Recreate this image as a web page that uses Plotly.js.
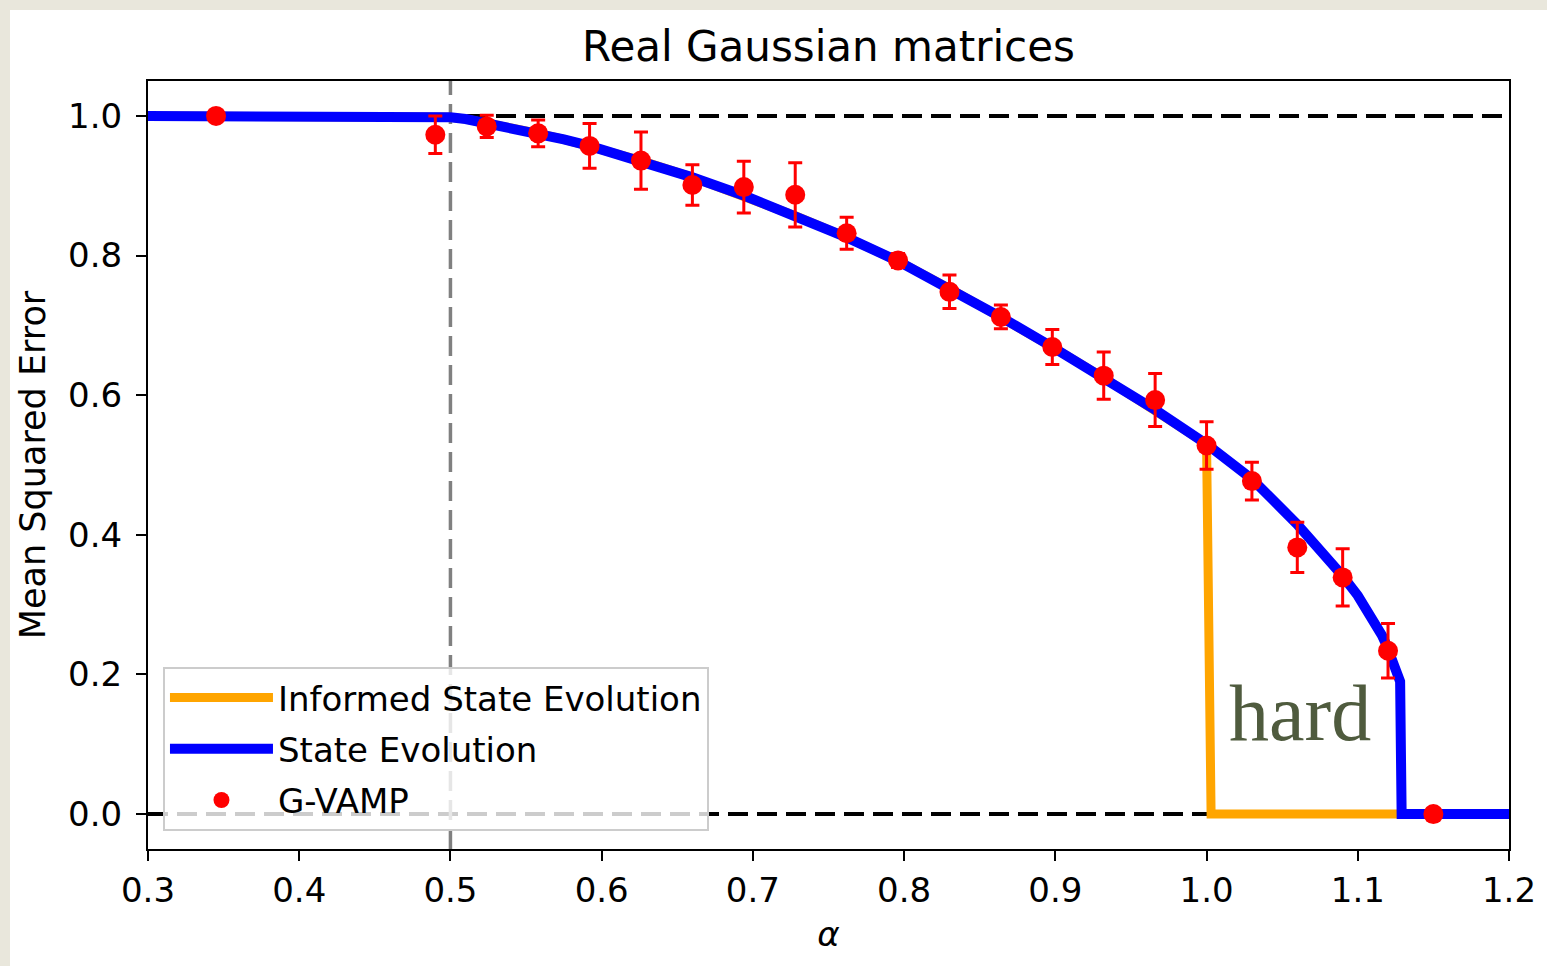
<!DOCTYPE html>
<html>
<head>
<meta charset="utf-8">
<script src="https://cdn.plot.ly/plotly-3.0.1.min.js"></script>
<style>
  html, body { margin: 0; padding: 0; background: #e9e7dc; width: 1547px; height: 966px; overflow: hidden; }
  #chart { position: absolute; left: 10px; top: 10px; width: 1537px; height: 956px; background: #ffffff; }
</style>
</head>
<body>
<div id="chart"></div>
<script>
// ---- data ----
const seAlpha = [0.300, 0.400, 0.470, 0.480, 0.490, 0.500, 0.510, 0.524, 0.540, 0.558, 0.575, 0.592, 0.626,
                 0.660, 0.694, 0.728, 0.762, 0.796, 0.830, 0.864, 0.898, 0.932, 0.966, 1.000, 1.030,
                 1.060, 1.075, 1.090, 1.100, 1.106, 1.112, 1.116, 1.119, 1.123, 1.126, 1.128, 1.129, 1.150, 1.200];
const seMSE   = [1.000, 1.000, 1.000, 0.9998, 0.9993, 0.998, 0.9955, 0.990, 0.9835, 0.975, 0.9665, 0.957, 0.936,
                 0.912, 0.886, 0.857, 0.826, 0.792, 0.753, 0.712, 0.669, 0.625, 0.579, 0.530, 0.480,
                 0.415, 0.380, 0.341, 0.313, 0.294, 0.272, 0.256, 0.242, 0.222, 0.205, 0.190, 0.000, 0.000, 0.000];

const iseAlpha = [0.300, 0.400, 0.470, 0.480, 0.490, 0.500, 0.510, 0.524, 0.540, 0.558, 0.575, 0.592, 0.626,
                  0.660, 0.694, 0.728, 0.762, 0.796, 0.830, 0.864, 0.898, 0.932, 0.966, 1.000, 1.003,
                  1.129, 1.200];
const iseMSE   = [1.000, 1.000, 1.000, 0.9998, 0.9993, 0.998, 0.9955, 0.990, 0.9835, 0.975, 0.9665, 0.957, 0.936,
                  0.912, 0.886, 0.857, 0.826, 0.792, 0.753, 0.712, 0.669, 0.625, 0.579, 0.530, 0.000,
                  0.000, 0.000];

const vampAlpha = [0.345, 0.490, 0.524, 0.558, 0.592, 0.626, 0.660, 0.694, 0.728, 0.762, 0.796,
                   0.830, 0.864, 0.898, 0.932, 0.966, 1.000, 1.030, 1.060, 1.090, 1.120, 1.150];
const vampMSE   = [1.000, 0.973, 0.985, 0.975, 0.957, 0.936, 0.901, 0.898, 0.887, 0.832, 0.793,
                   0.748, 0.712, 0.669, 0.628, 0.593, 0.528, 0.477, 0.382, 0.339, 0.234, 0.000];
const vampErr   = [0.000, 0.027, 0.016, 0.019, 0.032, 0.041, 0.029, 0.037, 0.046, 0.023, 0.010,
                   0.024, 0.017, 0.025, 0.034, 0.038, 0.034, 0.027, 0.036, 0.041, 0.039, 0.000];

const refLevels = [0.0, 1.0];      // horizontal dashed reference levels
const refAlpha  = [0.5];           // vertical dashed reference
const xTicks = [0.3, 0.4, 0.5, 0.6, 0.7, 0.8, 0.9, 1.0, 1.1, 1.2];
const yTicks = [0.0, 0.2, 0.4, 0.6, 0.8, 1.0];

const FONT = 'DejaVu Sans, sans-serif';

const traces = [
  { x: iseAlpha, y: iseMSE, mode: 'lines', name: 'Informed State Evolution', legendgroup: 'g1',
    line: { color: '#ffa500', width: 9 } },
  { x: seAlpha, y: seMSE, mode: 'lines', name: 'State Evolution', legendgroup: 'g2',
    line: { color: '#0000ff', width: 10 } },
  { x: vampAlpha, y: vampMSE, mode: 'markers', name: 'G-VAMP', legendgroup: 'g3',
    marker: { color: '#ff0000', size: 20 },
    error_y: { type: 'data', array: vampErr, visible: true, color: '#ff0000', thickness: 3, width: 7 } }
];

const shapes = [];
refLevels.forEach(v => shapes.push({
  type: 'line', xref: 'paper', yref: 'y', x0: 0, x1: 1, y0: v, y1: v, layer: 'below',
  line: { color: '#000000', width: 4, dash: '20px,9px' }
}));
refAlpha.forEach(v => shapes.push({
  type: 'line', xref: 'x', yref: 'paper', x0: v, x1: v, y0: 0, y1: 1, layer: 'below',
  line: { color: '#808080', width: 3.5, dash: '20px,9px' }
}));

const layout = {
  width: 1537, height: 956,
  paper_bgcolor: '#ffffff', plot_bgcolor: '#ffffff',
  margin: { l: 138, r: 38, t: 71, b: 117 },
  font: { family: FONT, color: '#000000', size: 34 },
  title: { text: 'Real Gaussian matrices', font: { family: FONT, size: 42, color: '#000000' },
           x: 0.5, xref: 'paper', xanchor: 'center', y: 0.962, yref: 'container', yanchor: 'middle' },
  xaxis: {
    range: [0.3, 1.2], tickvals: xTicks, tickformat: '.1f',
    showline: true, mirror: true, linecolor: '#000000', linewidth: 2,
    ticks: 'outside', ticklen: 10, tickwidth: 2, tickcolor: '#000000',
    showgrid: false, zeroline: false,
    tickfont: { family: FONT, size: 34, color: '#000000' },
    title: { text: '<i>α</i>', font: { family: FONT, size: 34, color: '#000000' }, standoff: 13 }
  },
  yaxis: {
    range: [-0.05, 1.05], tickvals: yTicks, tickformat: '.1f',
    showline: true, mirror: true, linecolor: '#000000', linewidth: 2,
    ticks: 'outside', ticklen: 10, tickwidth: 2, tickcolor: '#000000',
    ticklabelstandoff: 7,
    showgrid: false, zeroline: false,
    tickfont: { family: FONT, size: 34, color: '#000000' },
    title: { text: 'Mean Squared Error', font: { family: FONT, size: 35, color: '#000000' }, standoff: 12 }
  },
  legend: {
    x: 0.011, y: 0.237, xanchor: 'left', yanchor: 'top',
    bgcolor: 'rgba(255,255,255,0.8)', bordercolor: '#cccccc', borderwidth: 2,
    itemwidth: 103, tracegroupgap: 4,
    font: { family: FONT, size: 34, color: '#000000' }
  },
  shapes: shapes,
  annotations: [{
    x: 1.062, y: 0.145, xref: 'x', yref: 'y', text: 'hard', showarrow: false,
    font: { family: 'Liberation Serif, serif', size: 80, color: '#4f5b3e' },
    xanchor: 'center', yanchor: 'middle'
  }]
};

Plotly.newPlot('chart', traces, layout, { displayModeBar: false, staticPlot: true });
</script>
</body>
</html>
